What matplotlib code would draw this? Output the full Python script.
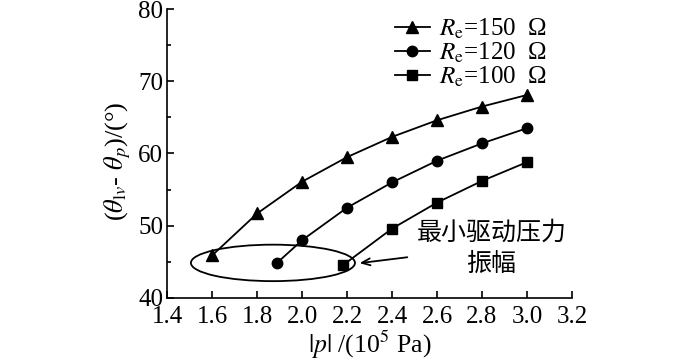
import matplotlib
matplotlib.use("Agg")
import matplotlib.pyplot as plt
from matplotlib.patches import Ellipse
from matplotlib.ticker import MultipleLocator

plt.rcParams['font.family'] = ['Liberation Serif', 'Noto Sans CJK SC', 'DejaVu Sans']
plt.rcParams['mathtext.fontset'] = 'stix'

x150 = [1.6, 1.8, 2.0, 2.2, 2.4, 2.6, 2.8, 3.0]
y150 = [45.9, 51.7, 56.1, 59.5, 62.3, 64.6, 66.5, 68.1]
x120 = [1.89, 2.0, 2.2, 2.4, 2.6, 2.8, 3.0]
y120 = [44.9, 48.0, 52.5, 56.0, 59.0, 61.4, 63.5]
x100 = [2.18, 2.4, 2.6, 2.8, 3.0]
y100 = [44.5, 49.6, 53.2, 56.2, 58.8]
labels = [r'$R_{\mathrm{e}}$=150  Ω', r'$R_{\mathrm{e}}$=120  Ω', r'$R_{\mathrm{e}}$=100  Ω']
xticks = [1.4, 1.6, 1.8, 2.0, 2.2, 2.4, 2.6, 2.8, 3.0, 3.2]
yticks = [40, 50, 60, 70, 80]

fig = plt.figure(figsize=(7.0, 3.62), dpi=100)
ax = fig.add_axes([0.239, 0.177, 0.578, 0.798])

ax.plot(x150, y150, marker='^', label=labels[0], color='black', lw=1.3, markersize=8)
ax.plot(x120, y120, marker='o', label=labels[1], color='black', lw=1.3, markersize=7.5)
ax.plot(x100, y100, marker='s', label=labels[2], color='black', lw=1.3, markersize=6.5)

ax.set_xlim(1.4, 3.2)
ax.set_ylim(40, 80)
ax.set_xticks(xticks)
ax.set_xticklabels([f'{t:.1f}' for t in xticks])
ax.set_yticks(yticks)
ax.yaxis.set_minor_locator(MultipleLocator(5))
ax.tick_params(axis='both', which='major', direction='in', length=5, width=1.2, labelsize=18, pad=3)
ax.tick_params(axis='x', which='major', pad=6)
ax.tick_params(axis='y', which='minor', direction='in', length=3, width=1.2)
for s in ['top', 'right']:
    ax.spines[s].set_visible(False)
for s in ['left', 'bottom']:
    ax.spines[s].set_linewidth(1.2)

ax.set_xlabel(r'$|p|$ /(10$^5$ Pa)', fontsize=18.5)
ax.xaxis.label.set_va('bottom')
ax.xaxis.set_label_coords(0.5, -0.218)
ax.set_ylabel(r'($\theta_{\mathrm{l}v}$- $\theta_{p}$)/(°)', fontsize=19)
ax.yaxis.set_label_coords(-0.086, 0.474)

ell = Ellipse((1.87, 44.85), 0.73, 5.05, fill=False, edgecolor='black', lw=1.3)
ax.add_patch(ell)
ax.annotate('', xy=(2.243, 44.77), xytext=(2.48, 45.68),
            arrowprops=dict(arrowstyle='->,head_length=0.6,head_width=0.25', color='black', lw=1.3))
ax.text(2.842, 46.85, '最小驱动压力\n振幅', fontsize=18, ha='center', va='center',
        family=['Noto Sans CJK SC'], linespacing=1.25)

leg = fig.legend(loc='upper left', bbox_to_anchor=(0.564, 0.955), frameon=False,
                 fontsize=18, handlelength=1.4, handletextpad=0.35, labelspacing=0.0,
                 borderaxespad=0.0, borderpad=0.0)

fig.savefig('out.png', dpi=100)
